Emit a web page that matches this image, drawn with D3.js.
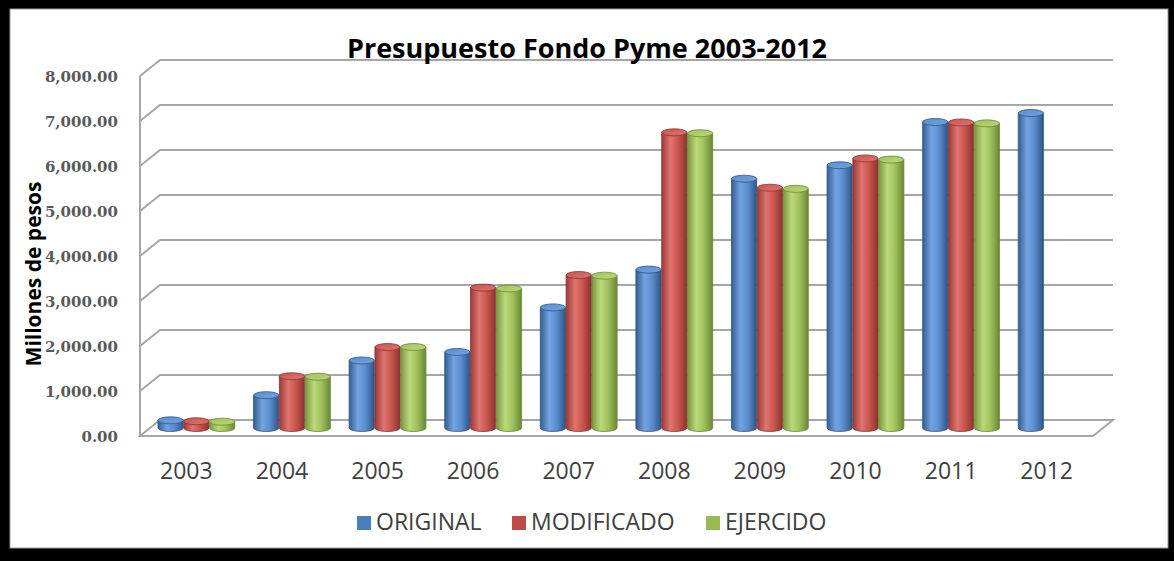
<!DOCTYPE html>
<html>
<head>
<meta charset="utf-8">
<script src="https://cdn.jsdelivr.net/npm/d3@7/dist/d3.min.js"></script>
<style>
  html, body { margin: 0; padding: 0; background: #000; }
  svg { display: block; }
</style>
</head>
<body>
<svg id="chart" width="1174" height="561"></svg>
<script>
// ---- data ----
const years = ["2003","2004","2005","2006","2007","2008","2009","2010","2011","2012"];
const seriesNames = ["ORIGINAL","MODIFICADO","EJERCIDO"];
const original   = [170, 730, 1500, 1690, 2680, 3520, 5540, 5840, 6800, 7000];
const modificado = [150, 1150, 1800, 3120, 3400, 6570, 5340, 5990, 6790, null];
const ejercido   = [140, 1140, 1800, 3100, 3385, 6550, 5315, 5965, 6770, null];
const yTicks = [0, 1000, 2000, 3000, 4000, 5000, 6000, 7000, 8000];
const titleText = "Presupuesto Fondo Pyme 2003-2012";
const yTitle = "Millones de pesos";

const seriesValues = [original, modificado, ejercido];
const colors = {
  ORIGINAL:   ["#345e92", "#74a3e0", "#5b8dcd", "#2e5586"],
  MODIFICADO: ["#9a3b38", "#e07470", "#c9554f", "#8a3330"],
  EJERCIDO:   ["#7a973f", "#bcd97a", "#9fc15c", "#6b8636"]
};
const legendColors = { ORIGINAL: "#4a7ebb", MODIFICADO: "#be4b48", EJERCIDO: "#98b954" };

const svg = d3.select("#chart");

// frame
svg.append("rect").attr("x", 0).attr("y", 0).attr("width", 1174).attr("height", 561).attr("fill", "#000");
svg.append("rect").attr("x", 10).attr("y", 9).attr("width", 1158).attr("height", 539)
  .attr("fill", "#fff").attr("stroke", "#9a9a9a").attr("stroke-width", 1);

// 3D geometry: back wall, depth offsets
const DX = 20, DY = 16;
const yBack = d3.scaleLinear().domain([0, 8000]).range([420, 60]);
const yFront = d3.scaleLinear().domain([0, 8000]).range([420 + DY, 60 + DY]);
const yMid = d3.scaleLinear().domain([0, 8000]).range([420 + DY / 2, 60 + DY / 2]);
const backLeft = 160, backRight = 1113;

// category scale at mid depth
const xMid = d3.scaleBand().domain(years)
  .range([backLeft - DX / 2, backRight - DX / 2])
  .paddingInner(0.19).paddingOuter(0.08);
const xFront = xMid.copy().range([backLeft - DX, backRight - DX]);
const xSeries = d3.scaleBand().domain(seriesNames).range([0, xMid.bandwidth()]);

const gridColor = "#a6a6a6";
const grid = svg.append("g");
// floor
grid.append("polygon")
  .attr("points", [
    [backLeft - DX, yFront(0)], [backLeft, yBack(0)],
    [backRight, yBack(0)], [backRight - DX, yFront(0)]
  ].map(p => p.join(",")).join(" "))
  .attr("fill", "#fff").attr("stroke", gridColor).attr("stroke-width", 2);
// gridlines on side + back wall
yTicks.filter(v => v > 0).forEach(v => {
  grid.append("polyline")
    .attr("points", [[backLeft - DX, yFront(v)], [backLeft, yBack(v)], [backRight, yBack(v)]]
      .map(p => p.join(",")).join(" "))
    .attr("fill", "none").attr("stroke", gridColor).attr("stroke-width", 2);
});
// side wall front edge
grid.append("line")
  .attr("x1", backLeft - DX).attr("x2", backLeft - DX)
  .attr("y1", yFront(8000)).attr("y2", yFront(0))
  .attr("stroke", gridColor).attr("stroke-width", 2);

// gradients
const defs = svg.append("defs");
seriesNames.forEach(s => {
  const c = colors[s];
  const g = defs.append("linearGradient").attr("id", "g-" + s)
    .attr("x1", "0").attr("x2", "1").attr("y1", "0").attr("y2", "0");
  g.append("stop").attr("offset", "0").attr("stop-color", c[0]);
  g.append("stop").attr("offset", "0.35").attr("stop-color", c[1]);
  g.append("stop").attr("offset", "0.65").attr("stop-color", c[2]);
  g.append("stop").attr("offset", "1").attr("stop-color", c[3]);
  const t = defs.append("linearGradient").attr("id", "t-" + s)
    .attr("x1", "0").attr("x2", "1").attr("y1", "0").attr("y2", "1");
  t.append("stop").attr("offset", "0").attr("stop-color", c[2]);
  t.append("stop").attr("offset", "1").attr("stop-color", c[1]);
});

// bars (cylinders)
const bars = svg.append("g");
const RY = 3.5;
years.forEach((yr, i) => {
  seriesNames.forEach((s, j) => {
    const v = seriesValues[j][i];
    if (v == null) return;
    const x0 = xMid(yr) + xSeries(s) + 0.3;
    const w = xSeries.bandwidth() - 0.6;
    const cx = x0 + w / 2;
    const yt = yMid(v), yb = yMid(0);
    const g = bars.append("g");
    g.append("path")
      .attr("d", `M${x0},${yt} L${x0},${yb} A${w / 2},${RY} 0 0 0 ${x0 + w},${yb} L${x0 + w},${yt} Z`)
      .attr("fill", `url(#g-${s})`).attr("stroke", colors[s][3]).attr("stroke-width", 0.8);
    g.append("ellipse")
      .attr("cx", cx).attr("cy", yt).attr("rx", w / 2).attr("ry", RY)
      .attr("fill", `url(#t-${s})`).attr("stroke", colors[s][3]).attr("stroke-width", 0.8);
  });
});

// y axis labels
const yAxis = d3.axisLeft(yFront).tickValues(yTicks).tickFormat(d3.format(",.2f"))
  .tickSize(0).tickPadding(22);
const yAxG = svg.append("g").attr("transform", `translate(${backLeft - DX},0)`).call(yAxis);
yAxG.select(".domain").remove();
yAxG.selectAll("text")
  .attr("font-family", "DejaVu Serif").attr("font-weight", "bold")
  .attr("font-size", 15).attr("fill", "#595959").attr("dy", "0.36em");

// x axis labels
const xAxis = d3.axisBottom(xFront).tickSize(0).tickPadding(43);
const xAxG = svg.append("g").attr("transform", `translate(0,${yFront(0)})`).call(xAxis);
xAxG.select(".domain").remove();
xAxG.selectAll("text")
  .attr("font-family", "Open Sans").attr("font-size", 23).attr("fill", "#404040")
  .attr("dy", "0");

// title
svg.append("text").attr("x", 587).attr("y", 58).attr("text-anchor", "middle")
  .attr("font-family", "Open Sans").attr("font-weight", "bold").attr("font-size", 27)
  .attr("fill", "#000").text(titleText);

// y title
svg.append("text").attr("transform", "translate(41,274) rotate(-90)")
  .attr("text-anchor", "middle")
  .attr("font-family", "Open Sans").attr("font-weight", "bold").attr("font-size", 21)
  .attr("fill", "#000").text(yTitle);

// legend
const legendX = [357, 512, 706];
const leg = svg.append("g");
seriesNames.forEach((s, j) => {
  leg.append("rect").attr("x", legendX[j]).attr("y", 516).attr("width", 14).attr("height", 14)
    .attr("fill", legendColors[s]);
  leg.append("text").attr("x", legendX[j] + 19).attr("y", 530)
    .attr("font-family", "Open Sans").attr("font-size", 23).attr("fill", "#404040").text(s);
});
</script>
</body>
</html>
